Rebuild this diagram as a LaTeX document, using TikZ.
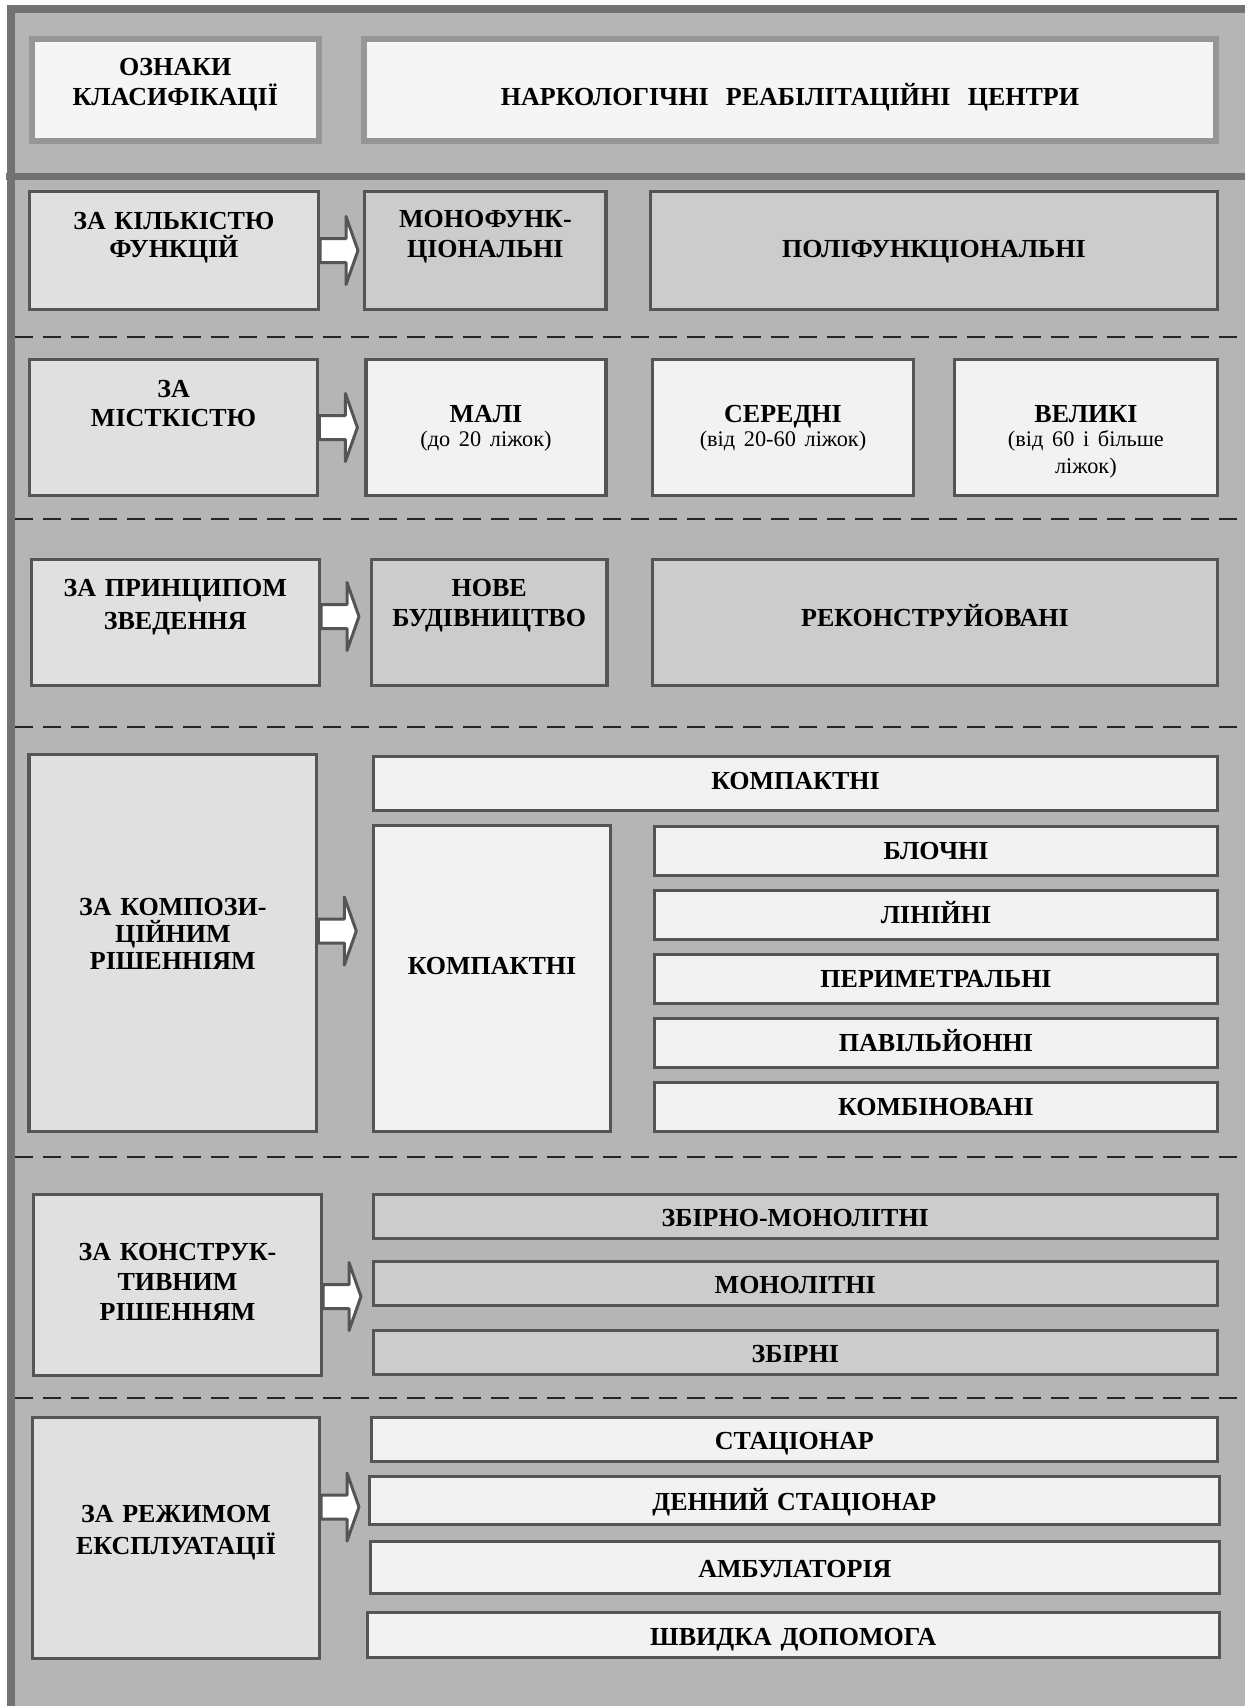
\documentclass[tikz,border=0pt]{standalone}
\usepackage{fontspec}
\setmainfont{Liberation Serif}
\usetikzlibrary{positioning,calc}
\definecolor{backgr}{HTML}{B5B5B5}
\definecolor{frameline}{HTML}{727272}
\definecolor{boxline}{HTML}{555555}
\definecolor{headline}{HTML}{969696}
\definecolor{headfill}{HTML}{F5F5F5}
\definecolor{signfill}{HTML}{E0E0E0}
\definecolor{darkfill}{HTML}{CCCCCC}
\definecolor{lightfill}{HTML}{F2F2F2}
\tikzset{
    %Define standard look of all boxes
    box/.style={
           rectangle,
           draw=boxline, line width=3.3pt,
           inner sep=0pt,
           align=center,
           text height=30pt,
           font=\bfseries\fontsize{26}{29}\selectfont},
    % Size of a box (width, height)
    wh/.style 2 args={
           minimum width=#1pt,
           minimum height=#2pt,
           text width=#1pt},
    % Depth of the text, moves the text up
    lift/.style={text depth=#1pt},
    % Line spacing
    lsk/.style={font=\bfseries\fontsize{26}{#1}\selectfont},
    % Kinds of boxes
    headbox/.style={box, draw=headline, line width=6pt, fill=headfill},
    signbox/.style={box, fill=signfill},
    darkbox/.style={box, fill=darkfill},
    lightbox/.style={box, fill=lightfill},
    % Dashed line between groups
    divide/.style={draw=black!85, line width=2.5pt, dash pattern=on 18pt off 10pt},
    % Block arrow
    arrowline/.style={draw=boxline, line width=3pt, fill=white, line join=round},
    barrow/.pic={
           \draw[arrowline] (0,-12) -- (26,-12) -- (26,-34) -- (38,0)
                 -- (26,34) -- (26,12) -- (0,12) -- cycle;}
}

\begin{document}
\begin{tikzpicture}[x=1pt, y=-1pt]
    \useasboundingbox (0,0) rectangle (1245,1706);
    \clip (0,0) rectangle (1245,1706);
    % frame
    \draw[fill=backgr, draw=frameline, line width=8pt] (11,9) rectangle (1262,1722);
    \draw[draw=frameline, line width=7pt] (6,176.5) -- (1245,176.5);
    \foreach \y in {337,519,727,1157,1398}
        \draw[divide] (15,\y) -- (1245,\y);

    % header
    \node[headbox, wh={287.5}{102}, lift=59, lsk=30] (signs) at (175.25,90) {ОЗНАКИ\\КЛАСИФІКАЦІЇ};
    \node[headbox, wh={852}{102}, lift=0] (centres) at (790,90) {НАРКОЛОГІЧНІ\ \ РЕАБІЛІТАЦІЙНІ\ \ ЦЕНТРИ};

    % functions
    \node[signbox, wh={289}{117.7}, lift=73, lsk=28] (byfunc) at (173.85,250.5) {ЗА КІЛЬКІСТЮ\\ФУНКЦІЙ};
    \node[darkbox, wh={241.4}{117.7}, lift=77, lsk=30, right=43pt of byfunc] (mono) {МОНОФУНК-\\ЦІОНАЛЬНІ};
    \node[darkbox, wh={567}{117.7}, lift=16, right=41pt of mono] (poly) {ПОЛІФУНКЦІОНАЛЬНІ};

    % capacity
    \node[signbox, wh={288.4}{135.7}, lift=91] (bysize) at (173.55,427.5) {ЗА\\МІСТКІСТЮ};
    \node[lightbox, wh={239.8}{135.7}, lift=41, lsk=27, right=45pt of bysize] (few)
        {МАЛІ\\[-3pt]{\mdseries\fontsize{22.3}{27}\selectfont (до 20 ліжок)}};
    \node[lightbox, wh={260.7}{135.7}, lift=41, lsk=27, right=43.5pt of few] (medium)
        {СЕРЕДНІ\\[-3pt]{\mdseries\fontsize{22.3}{27}\selectfont (від 20-60 ліжок)}};
    \node[lightbox, wh={262.5}{135.7}, lift=41, lsk=27, right=38pt of medium] (large)
        {ВЕЛИКІ\\[-3pt]{\mdseries\fontsize{22.3}{27}\selectfont (від 60 і більше}\\{\mdseries\fontsize{22.3}{27}\selectfont ліжок)}};

    % building
    \node[signbox, wh={288.1}{125.7}, lift=83, lsk=33] (bybuild) at (175.3,622.5) {ЗА ПРИНЦИПОМ\\ЗВЕДЕННЯ};
    \node[darkbox, wh={235.8}{125.7}, lift=83, lsk=30, right=48.6pt of bybuild] (new) {НОВЕ\\БУДІВНИЦТВО};
    \node[darkbox, wh={564.7}{125.7}, lift=22, right=42.3pt of new] (rebuilt) {РЕКОНСТРУЙОВАНІ};

    % composition
    \node[signbox, wh={287.7}{376.7}, lift=84.6, lsk=26.7] (bycomp) at (172.8,943)
        {ЗА КОМПОЗИ-\\ЦІЙНИМ\\РІШЕННІЯМ};
    \node[lightbox, wh={843.7}{53.7}, lift=19] (compact) at (795.5,783.5) {КОМПАКТНІ};
    \node[lightbox, wh={236.7}{305.7}, lift=39] (compacttall) at (492,978.5) {КОМПАКТНІ};
    \node[lightbox, wh={562.7}{48.7}, lift=14] (block) at (936,851) {БЛОЧНІ};
    \node[lightbox, wh={562.7}{48.7}, lift=14, below=12pt of block] (linear) {ЛІНІЙНІ};
    \node[lightbox, wh={562.7}{48.7}, lift=14, below=12pt of linear] (perim) {ПЕРИМЕТРАЛЬНІ};
    \node[lightbox, wh={562.7}{48.7}, lift=14, below=12pt of perim] (pavil) {ПАВІЛЬЙОННІ};
    \node[lightbox, wh={562.7}{48.7}, lift=14, below=12pt of pavil] (combi) {КОМБІНОВАНІ};

    % structure
    \node[signbox, wh={287.7}{180.7}, lift=80, lsk=30] (bystruct) at (177.5,1285)
        {ЗА КОНСТРУК-\\ТИВНИМ\\РІШЕННЯМ};
    \node[darkbox, wh={844.2}{43.7}, lift=10] (precast) at (795.25,1216.5) {ЗБІРНО-МОНОЛІТНІ};
    \node[darkbox, wh={844.2}{43.7}, lift=10, below=20pt of precast] (monolith) {МОНОЛІТНІ};
    \node[darkbox, wh={844.2}{43.7}, lift=10, below=22pt of monolith] (prefab) {ЗБІРНІ};

    % mode of use
    \node[signbox, wh={286.7}{240.7}, lift=61, lsk=31.5] (bymode) at (176,1538) {ЗА РЕЖИМОМ\\ЕКСПЛУАТАЦІЇ};
    \node[lightbox, wh={846.1}{43.7}, lift=10] (inpat) at (794.3,1439.5) {СТАЦІОНАР};
    \node[lightbox, wh={850.1}{47.7}, lift=10] (daypat) at (794.3,1500.5) {ДЕННИЙ СТАЦІОНАР};
    \node[lightbox, wh={848.9}{51.7}, lift=10] (outpat) at (794.9,1567.5) {АМБУЛАТОРІЯ};
    \node[lightbox, wh={852.1}{44.7}, lift=10] (emerg) at (793.3,1635) {ШВИДКА ДОПОМОГА};

    % arrows
    \foreach \n/\dy in {byfunc/0, bysize/0, bybuild/-6, bycomp/-12, bystruct/11.5, bymode/-31}
        \pic at ($(\n.east)+(0,\dy)$) {barrow};
\end{tikzpicture}
\end{document}
